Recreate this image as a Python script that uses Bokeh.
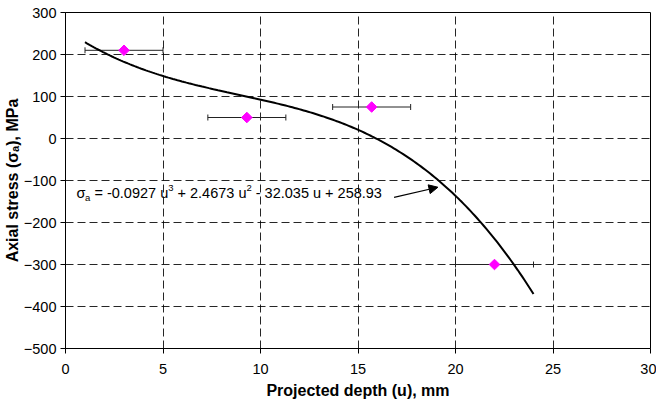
import numpy as np
from bokeh.plotting import figure
from bokeh.models import (ColumnDataSource, Whisker, TeeHead, Label, Arrow,
                          NormalHead, FixedTicker, Range1d)
from bokeh.embed import file_html
from bokeh.resources import INLINE

# ---- data ----
depth = [3.0, 9.3, 15.7, 22.0]          # projected depth u, mm
stress = [210, 50, 75, -300]            # axial stress, MPa
depth_err = [2.0, 2.0, 2.0, 2.0]        # horizontal error, mm
trend_coef = [-0.0927, 2.4673, -32.035, 258.93]   # cubic trendline (shown on chart)
trend_span = [1.0, 24.0]
x_ticks = [0, 5, 10, 15, 20, 25, 30]
y_ticks = [-500, -400, -300, -200, -100, 0, 100, 200, 300]

FONT = "Liberation Sans"
NB = "\u00a0"

p = figure(width=656, height=402, x_range=Range1d(0, 30), y_range=Range1d(-500, 300),
           output_backend="svg", toolbar_location=None,
           min_border_left=64, min_border_right=6, min_border_top=12, min_border_bottom=54)
p.background_fill_color = "white"
p.border_fill_color = "white"
p.outline_line_color = "black"
p.outline_line_width = 1

for ax, t in ((p.xaxis, x_ticks), (p.yaxis, y_ticks)):
    ax.ticker = FixedTicker(ticks=t)
    ax.axis_line_color = "black"
    ax.major_tick_line_color = "black"
    ax.major_tick_in = 0
    ax.major_tick_out = 5
    ax.minor_tick_line_color = None
    ax.major_label_text_font = FONT
    ax.major_label_text_font_size = "14.5px"
    ax.major_label_text_color = "black"
    ax.axis_label_text_font = FONT
    ax.axis_label_text_font_size = "16px"
    ax.axis_label_text_font_style = "bold"
    ax.axis_label_text_color = "black"
p.xaxis.major_label_standoff = 10
p.yaxis.major_label_standoff = 4
p.xaxis.axis_label = "Projected depth (u), mm"
p.xaxis.axis_label_standoff = 5
p.yaxis.axis_label = "Axial stress (σₐ), MPa"
p.yaxis.axis_label_standoff = 0

p.xgrid.ticker = FixedTicker(ticks=x_ticks)
p.ygrid.ticker = FixedTicker(ticks=y_ticks)
for g in (p.xgrid, p.ygrid):
    g.grid_line_color = "black"
    g.grid_line_alpha = 0.85
    g.grid_line_dash = "8 4"
    g.grid_line_width = 1

# trendline
ut = np.linspace(trend_span[0], trend_span[1], 200)
st = np.polyval(trend_coef, ut)
p.line(ut, st, line_color="black", line_width=2)

# error bars + markers
src = ColumnDataSource(dict(u=depth, s=stress,
                            lo=[a - b for a, b in zip(depth, depth_err)],
                            hi=[a + b for a, b in zip(depth, depth_err)]))
p.add_layout(Whisker(source=src, base="s", lower="lo", upper="hi", dimension="width",
                     line_color="#222222", line_width=1,
                     lower_head=TeeHead(size=6, line_color="#222222", line_width=1),
                     upper_head=TeeHead(size=6, line_color="#222222", line_width=1)))
p.scatter("u", "s", source=src, marker="square", angle=np.pi / 4, size=7.5,
          fill_color="#FF00FF", line_color="#FF00FF")

# ---- equation label, composed with sub/superscripts ----
REG = dict.fromkeys("0123456789", 0.556)
REG.update({".": 0.278, " ": 0.278, NB: 0.278, "=": 0.584, "+": 0.584, "-": 0.333,
            "u": 0.556, "a": 0.556, "σ": 0.60})


def tw(s, size):
    return sum(REG.get(c, 0.556) for c in s) * size


eq_x, eq_y = 0.56, -130
main, small = 14.5, 9.5
pieces = [("σ", main, 0), ("a", small, -4), (" = -0.0927 u", main, 0), ("3", small, 5),
          (" + 2.4673 u", main, 0), ("2", small, 5), (" - 32.035 u + 258.93", main, 0)]
off = 0.0
for txt, sz, dy in pieces:
    txt = txt.replace(" ", NB)
    p.add_layout(Label(x=eq_x, y=eq_y, x_offset=off, y_offset=dy, text=txt,
                       text_font=FONT, text_font_size=f"{sz}px", text_color="black",
                       text_baseline="middle", text_align="left"))
    off += tw(txt, sz)

# arrow to the curve
p.add_layout(Arrow(x_start=16.85, y_start=-140, x_end=19.1, y_end=-116,
                   line_color="black", line_width=1.2,
                   end=NormalHead(size=9, fill_color="black", line_color="black")))

open("out.html", "w").write(file_html(p, INLINE))
